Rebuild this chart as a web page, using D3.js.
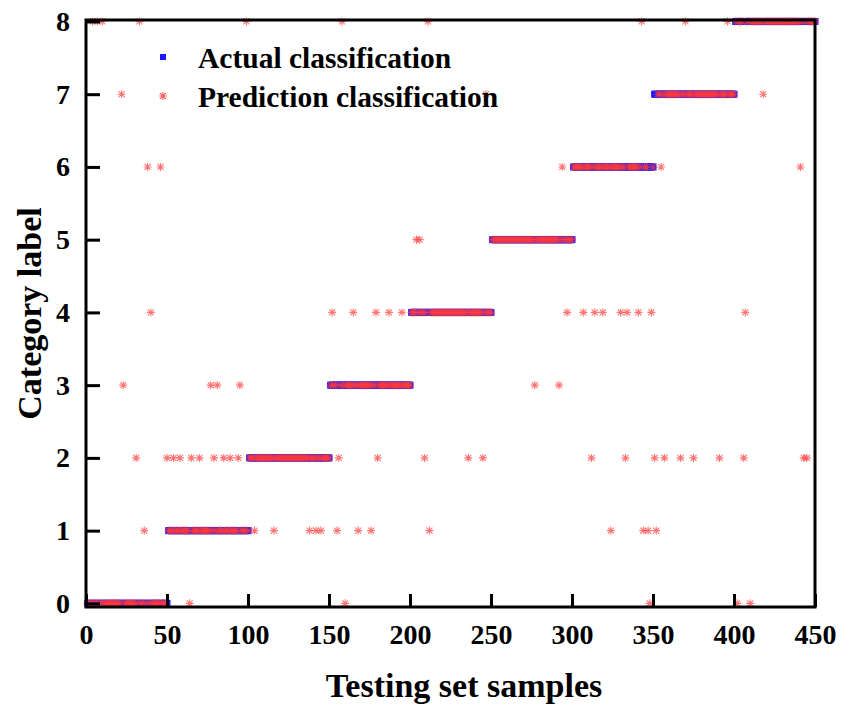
<!DOCTYPE html>
<html>
<head>
<meta charset="utf-8">
<script src="https://cdn.jsdelivr.net/npm/d3@7"></script>
<style>
  body { margin: 0; background: #fff; }
  text { font-family: "Liberation Serif", "Times New Roman", serif; font-weight: bold; fill: #000; }
</style>
</head>
<body>
<div id="chart"></div>
<script>
// Actual classes: runs of consecutive test samples
const classLabels = [0, 1, 2, 3, 4, 5, 6, 7, 8];
const classFirstSample = [1, 51, 101, 151, 201, 251, 301, 351, 401];
const classLastSample = [50, 100, 150, 200, 250, 300, 350, 400, 450];

// Misclassified samples: [sample, predicted label]
const misclassified = [
  [64, 0], [160, 0], [348, 0], [402, 0], [410, 0],
  [36, 1], [104, 1], [116, 1], [138, 1], [142, 1], [145, 1], [155, 1], [168, 1],
  [176, 1], [212, 1], [324, 1], [344, 1], [347, 1], [352, 1],
  [31, 2], [50, 2], [54, 2], [58, 2], [65, 2], [70, 2], [79, 2], [85, 2], [89, 2],
  [94, 2], [156, 2], [180, 2], [209, 2], [236, 2], [245, 2], [312, 2], [333, 2],
  [351, 2], [357, 2], [367, 2], [375, 2], [391, 2], [406, 2], [443, 2], [445, 2],
  [23, 3], [77, 3], [81, 3], [95, 3], [277, 3], [292, 3],
  [40, 4], [152, 4], [165, 4], [179, 4], [187, 4], [195, 4], [297, 4], [307, 4],
  [314, 4], [319, 4], [330, 4], [334, 4], [341, 4], [349, 4], [407, 4],
  [204, 5], [206, 5],
  [38, 6], [46, 6], [294, 6], [355, 6], [441, 6],
  [22, 7], [247, 7], [418, 7],
  [4, 8], [7, 8], [10, 8], [33, 8], [99, 8], [158, 8], [211, 8], [343, 8], [370, 8], [396, 8]
];

const xTicks = [0, 50, 100, 150, 200, 250, 300, 350, 400, 450];
const yTicks = [0, 1, 2, 3, 4, 5, 6, 7, 8];

function renderChart(containerId) {
  const width = 841, height = 704;
  const left = 86, right = 815, top = 20, bottom = 607;

  const svg = d3.select(`#${containerId}`)
    .append("svg")
    .attr("width", width)
    .attr("height", height);

  const x = d3.scaleLinear().domain([0, 450]).range([left, right]);
  const y = d3.scaleLinear().domain([-0.05, 8.02]).range([bottom, top]);

  // build sample list from the class runs
  const wrong = new Map(misclassified);
  const samples = [];
  classLabels.forEach((label, i) => {
    for (let s = classFirstSample[i]; s <= classLastSample[i]; s++) {
      samples.push({ sample: s, actual: label, predicted: wrong.has(s) ? wrong.get(s) : label });
    }
  });

  const starPath = r => `M0,${-r}V${r}M${-r},0H${r}M${-r * 0.75},${-r * 0.75}L${r * 0.75},${r * 0.75}M${-r * 0.75},${r * 0.75}L${r * 0.75},${-r * 0.75}`;

  // Actual classification squares
  svg.append("g")
    .selectAll("rect")
    .data(samples)
    .join("rect")
    .attr("x", d => x(d.sample) - 3.5)
    .attr("y", d => y(d.actual) - 3.5)
    .attr("width", 7)
    .attr("height", 7)
    .attr("fill", "#1a1aff");

  // Prediction stars
  svg.append("g")
    .selectAll("path")
    .data(samples)
    .join("path")
    .attr("transform", d => `translate(${x(d.sample)},${y(d.predicted)})`)
    .attr("d", starPath(4))
    .attr("fill", "none")
    .attr("stroke", "#ff3b3b")
    .attr("stroke-width", 1.1)
    .attr("opacity", 0.7);

  // Bottom axis
  const xAxis = svg.append("g")
    .attr("transform", `translate(0,${bottom})`)
    .call(d3.axisBottom(x).tickValues(xTicks).tickSize(-13).tickPadding(17).tickSizeOuter(0));
  xAxis.select(".domain").remove();
  xAxis.selectAll("line").attr("stroke", "#000").attr("stroke-width", 3);
  xAxis.selectAll("text").style("font-size", "28px").attr("dy", "0.71em");

  // Left axis
  const yAxis = svg.append("g")
    .attr("transform", `translate(${left},0)`)
    .call(d3.axisLeft(y).tickValues(yTicks).tickSize(-14).tickPadding(16).tickSizeOuter(0));
  yAxis.select(".domain").remove();
  yAxis.selectAll("line").attr("stroke", "#000").attr("stroke-width", 3);
  yAxis.selectAll("text").style("font-size", "28px");

  // Frame
  svg.append("rect")
    .attr("x", left).attr("y", top)
    .attr("width", right - left).attr("height", bottom - top)
    .attr("fill", "none")
    .attr("stroke", "#000")
    .attr("stroke-width", 3);

  // Axis titles
  svg.append("text")
    .attr("x", 464).attr("y", 697)
    .attr("text-anchor", "middle")
    .style("font-size", "34px")
    .text("Testing set samples");

  svg.append("text")
    .attr("transform", `translate(41,${(top + bottom) / 2}) rotate(-90)`)
    .attr("text-anchor", "middle")
    .style("font-size", "34px")
    .text("Category label");

  // Legend
  const legend = svg.append("g");
  legend.append("rect")
    .attr("x", 160).attr("y", 54).attr("width", 6).attr("height", 6)
    .attr("fill", "#1a1aff");
  legend.append("text")
    .attr("x", 198).attr("y", 68)
    .style("font-size", "29.5px")
    .text("Actual classification");
  legend.append("path")
    .attr("transform", "translate(163,96)")
    .attr("d", starPath(4))
    .attr("fill", "none")
    .attr("stroke", "#ff3b3b")
    .attr("stroke-width", 1.1)
    .attr("opacity", 0.8);
  legend.append("text")
    .attr("x", 198).attr("y", 107)
    .style("font-size", "29.5px")
    .text("Prediction classification");
}

document.addEventListener("DOMContentLoaded", () => {
  renderChart("chart");
});
</script>
</body>
</html>
